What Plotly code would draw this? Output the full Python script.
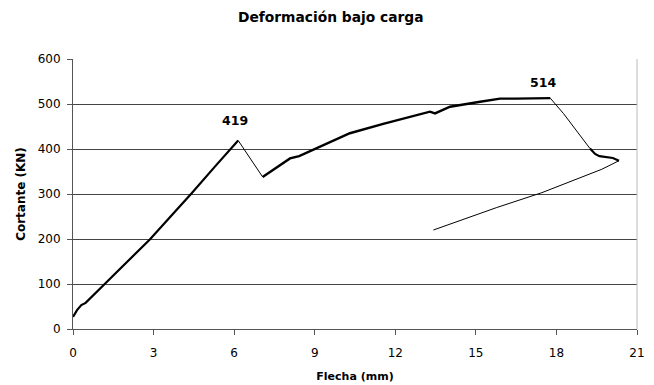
import plotly.graph_objects as go

# Ensayo de carga: flecha (mm) frente a cortante (kN), por tramos
x_carga = [0.0, 0.15, 0.31, 0.47, 1.18, 2.0, 2.86, 3.6, 4.41, 5.3, 6.15]
y_carga = [27, 42, 53, 58, 100, 148, 199, 248, 301, 362, 419]

x_caida1 = [6.15, 7.06]
y_caida1 = [419, 338]

x_recarga = [7.06, 7.5, 8.08, 8.42, 9.19, 10.31, 11.55, 12.55, 13.29, 13.48,
             14.04, 15.16, 15.9, 16.5, 17.0, 17.5, 17.77]
y_recarga = [338, 356, 379, 384, 405, 435, 456, 472, 483, 479,
             494, 505, 512, 512, 513, 514, 513]

x_caida2 = [17.77, 18.26, 19.25]
y_caida2 = [513, 479, 401]

x_cola = [19.25, 19.44, 19.6, 19.88, 20.1, 20.33]
y_cola = [401, 389, 384, 381, 380, 374]

x_descarga = [20.33, 19.69, 17.46, 15.78, 13.42]
y_descarga = [374, 355, 303, 270, 220]

# Valores máximos rotulados
x_picos = [6.15, 17.5]
y_picos = [419, 514]

tramos = [
    (x_carga, y_carga, 2.2),
    (x_caida1, y_caida1, 1),
    (x_recarga, y_recarga, 2.4),
    (x_caida2, y_caida2, 1),
    (x_cola, y_cola, 2.2),
    (x_descarga, y_descarga, 1),
]

FONT = "DejaVu Sans, Verdana, sans-serif"

fig = go.Figure()
for xs, ys, w in tramos:
    fig.add_trace(go.Scatter(x=xs, y=ys, mode="lines",
                             line=dict(color="black", width=w),
                             hoverinfo="skip", showlegend=False))

for xp, yp, dx, dy in zip(x_picos, y_picos, [-3, 0], [20, 15]):
    fig.add_annotation(x=xp, y=yp, text=f"<b>{yp}</b>", showarrow=False,
                       xshift=dx, yshift=dy,
                       font=dict(family=FONT, size=12.5, color="black"))

fig.update_layout(
    width=654, height=385,
    margin=dict(l=73, r=17, t=59, b=56),
    paper_bgcolor="white", plot_bgcolor="white",
    font=dict(family=FONT, size=12, color="black"),
    title=dict(text="<b>Deformación bajo carga</b>", x=0.457, xref="paper",
               y=0.955, yref="container", xanchor="center", yanchor="middle",
               font=dict(family=FONT, size=13.8, color="black")),
    showlegend=False,
)

fig.update_xaxes(
    range=[0, 21], tick0=0, dtick=3, showgrid=False, zeroline=False,
    showline=True, linecolor="#555", linewidth=1, automargin=False,
    ticks="outside", ticklen=5, tickcolor="#555",
    ticklabelstandoff=8,
    tickfont=dict(family=FONT, size=12),
    title=dict(text="<b>Flecha (mm)</b>", standoff=12,
               font=dict(family=FONT, size=11, color="black")),
)
fig.update_yaxes(
    range=[0, 600], tick0=0, dtick=100, showgrid=True, gridcolor="#444",
    gridwidth=1, zeroline=False,
    showline=True, linecolor="#555", linewidth=1, automargin=False,
    ticks="outside", ticklen=5, tickcolor="#555",
    ticklabelstandoff=4,
    tickfont=dict(family=FONT, size=12),
    title=dict(text="<b>Cortante (KN)</b>", standoff=9,
               font=dict(family=FONT, size=12, color="black")),
)

# Borde derecho del área de trazado
fig.add_shape(type="line", xref="paper", yref="paper", x0=1, x1=1, y0=0, y1=1,
              line=dict(color="#bbb", width=1))

fig.write_html("out.html")
